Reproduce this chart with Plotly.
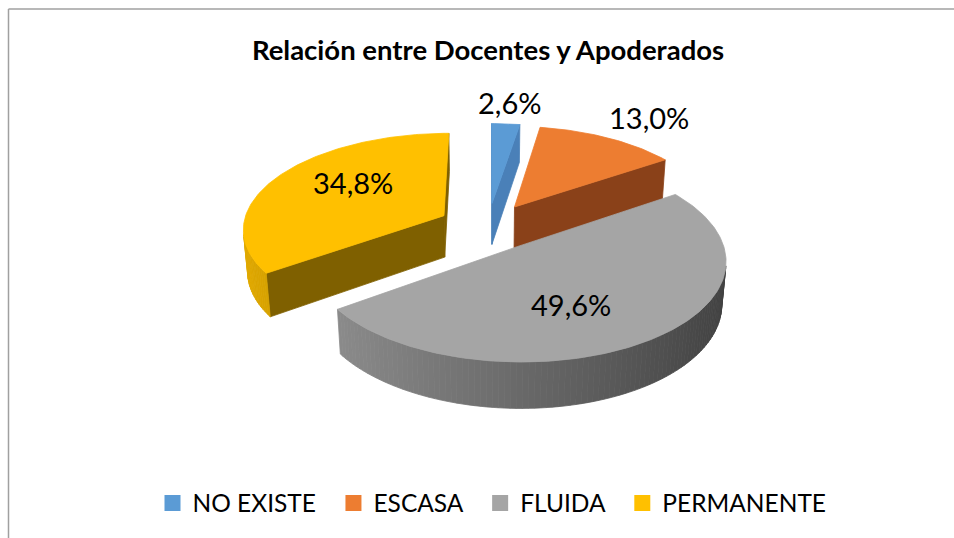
import numpy as np
import plotly.graph_objects as go

# ---------------- data ----------------
categories = ["NO EXISTE", "ESCASA", "FLUIDA", "PERMANENTE"]
percentages = [2.6, 13.0, 49.6, 34.8]
title_text = "Relación entre Docentes y Apoderados"

# ---------------- styles ----------------
top_colors = ["#5b9bd5", "#ed7d31", "#a5a5a5", "#ffc000"]
cut_colors = ["#4a80b8", "#8a4119", "#6e6e6e", "#7f6000"]
label_radius = [1.28, 1.36, 0.6, 0.6]
label_turn_deg = [0, 3, 12, 8]
FONT = "Lato"

W, H = 954, 538

# 3D view (screen-pixel space)
CX, CY0 = 488.0, 268.3
FOCAL = 1384.0
DIST = 7.0
ALPHA = np.radians(30)
THICK = 0.24
EXPLODE = 0.25
SA, CA = np.sin(ALPHA), np.cos(ALPHA)
CAM = np.array([0.0, -DIST * CA])


def proj(u, v, w):
    u = np.asarray(u, float)
    v = np.asarray(v, float)
    w = np.asarray(w, float)
    up = v * SA + w * CA
    depth = DIST + v * CA - w * SA
    return CX + FOCAL * u / depth, CY0 - FOCAL * up / depth


def shade(hexcol, f):
    h = hexcol.lstrip("#")
    r, g, b = (int(h[i:i + 2], 16) for i in (0, 2, 4))
    return "rgb(%d,%d,%d)" % (min(255, r * f), min(255, g * f), min(255, b * f))


def poly(xs, ys, color):
    xs = list(xs) + [xs[0]]
    ys = list(ys) + [ys[0]]
    return go.Scatter(x=xs, y=ys, mode="lines", fill="toself", fillcolor=color,
                      line=dict(color=color, width=0.8), hoverinfo="skip",
                      showlegend=False)


vals = np.array(percentages, float)
fr = vals / vals.sum()
ends = np.cumsum(fr) * 2 * np.pi
starts = ends - fr * 2 * np.pi
mids = (starts + ends) / 2

traces = []
annotations = []
order = np.argsort(-np.cos(mids))  # back slices first

for i in order:
    ts, te, m = starts[i], ends[i], mids[i]
    cu, cv = EXPLODE * np.sin(m), EXPLODE * np.cos(m)

    # radial cut faces
    for th, n in ((ts, np.array([-np.cos(ts), np.sin(ts)])),
                  (te, np.array([np.cos(te), -np.sin(te)]))):
        P = np.array([cu + 0.5 * np.sin(th), cv + 0.5 * np.cos(th)])
        if n.dot(CAM - P) > 0:
            uu = [cu, cu + np.sin(th), cu + np.sin(th), cu]
            vv = [cv, cv + np.cos(th), cv + np.cos(th), cv]
            ww = [THICK, THICK, 0, 0]
            x, y = proj(uu, vv, ww)
            traces.append(poly(x, y, cut_colors[i]))

    # outer curved wall
    nseg = max(2, int(np.degrees(te - ts) / 1.5) + 1)
    th = np.linspace(ts, te, nseg + 1)
    for k in range(nseg):
        a, b = th[k], th[k + 1]
        tm = (a + b) / 2
        n = np.array([np.sin(tm), np.cos(tm)])
        P = np.array([cu + np.sin(tm), cv + np.cos(tm)])
        if n.dot(CAM - P) > 0:
            uu = [cu + np.sin(a), cu + np.sin(b), cu + np.sin(b), cu + np.sin(a)]
            vv = [cv + np.cos(a), cv + np.cos(b), cv + np.cos(b), cv + np.cos(a)]
            ww = [THICK, THICK, 0, 0]
            x, y = proj(uu, vv, ww)
            f = min(0.93, 0.64 - 0.25 * np.sin(tm))
            traces.append(poly(x, y, shade(top_colors[i], f)))

    # top face
    arc = np.linspace(ts, te, max(3, int(np.degrees(te - ts)) + 2))
    uu = np.concatenate([[cu], cu + np.sin(arc)])
    vv = np.concatenate([[cv], cv + np.cos(arc)])
    x, y = proj(uu, vv, np.full(len(uu), THICK))
    traces.append(poly(x, y, top_colors[i]))

# data labels
for i in range(len(vals)):
    m = mids[i]
    cu, cv = EXPLODE * np.sin(m), EXPLODE * np.cos(m)
    r = label_radius[i]
    t = m + np.radians(label_turn_deg[i])
    lx, ly = proj(cu + r * np.sin(t), cv + r * np.cos(t), THICK)
    annotations.append(dict(x=float(lx), y=float(ly) - 2, xref="x", yref="y",
                            text=("%.1f" % vals[i]).replace(".", ",") + "%",
                            showarrow=False, xanchor="center", yanchor="middle",
                            font=dict(family=FONT, size=29, color="#000000")))

# legend entries
for i, c in enumerate(categories):
    pad = "\u00a0\u00a0" if i < len(categories) - 1 else ""
    traces.append(go.Scatter(x=[None], y=[None], mode="markers", name=c + pad,
                             marker=dict(symbol="square", size=16, color=top_colors[i]),
                             showlegend=True))

fig = go.Figure(traces)
fig.update_layout(
    width=W, height=H, autosize=False,
    margin=dict(l=0, r=0, t=0, b=0),
    paper_bgcolor="white", plot_bgcolor="white",
    title=dict(text="<b>" + title_text + "</b>", x=488 / W, xanchor="center",
               y=1 - 50 / H, yanchor="middle",
               font=dict(family=FONT, size=27.5, color="#000000")),
    xaxis=dict(range=[0, W], visible=False, fixedrange=True),
    yaxis=dict(range=[H, 0], visible=False, fixedrange=True),
    showlegend=True,
    legend=dict(orientation="h", x=492 / W, xanchor="center",
                y=1 - 503 / H, yanchor="middle",
                font=dict(family=FONT, size=24.5, color="#000000"),
                itemclick=False, itemdoubleclick=False),
    annotations=annotations,
    shapes=[
        dict(type="line", xref="x", yref="y", x0=8.5, y0=9, x1=8.5, y1=H,
             line=dict(color="#a0a0a0", width=1.5)),
        dict(type="line", xref="x", yref="y", x0=8.5, y0=9, x1=W, y1=9,
             line=dict(color="#a0a0a0", width=1.5)),
    ],
)
fig.write_html(
    "out.html",
    config={"displayModeBar": False},
    post_script="document.documentElement.style.overflow='hidden';"
                "document.body.style.margin='0';document.body.style.overflow='hidden';",
)
